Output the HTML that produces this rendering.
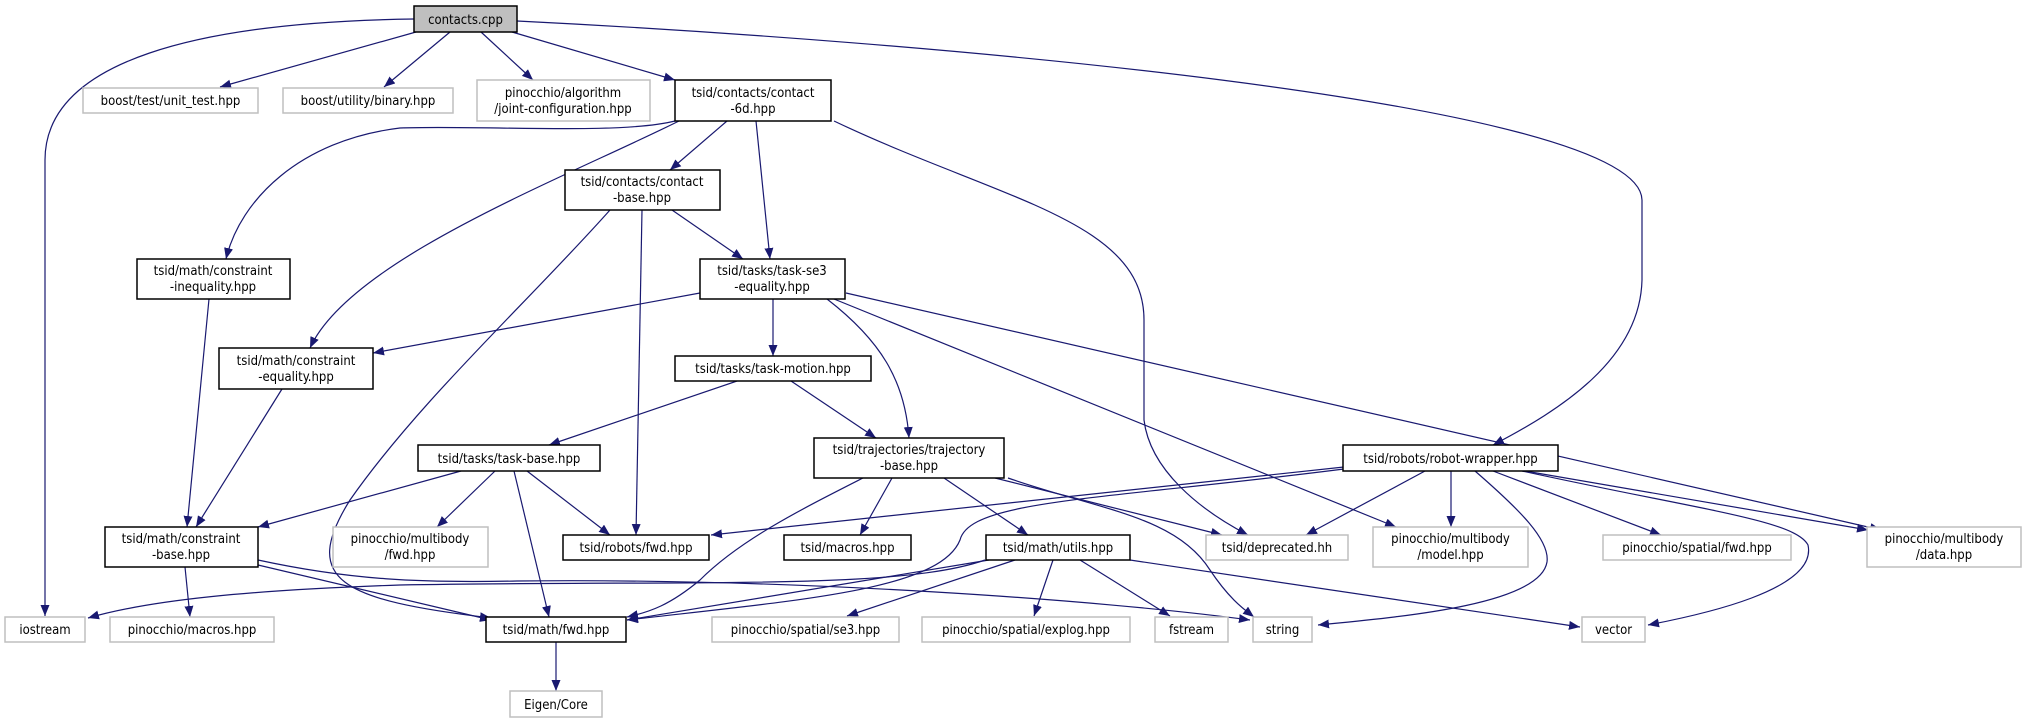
<!DOCTYPE html>
<html><head><meta charset="utf-8"><style>
html,body{margin:0;padding:0;background:#fff;}
svg{display:block;}
text{font-family:"DejaVu Sans Condensed","DejaVu Sans","Liberation Sans",sans-serif;font-size:13px;fill:#000;text-anchor:middle;}
.n rect{fill:#fff;stroke:#000;stroke-width:1.5;}
.g rect{fill:#fff;stroke:#bfbfbf;stroke-width:1.5;}
.r rect{fill:#bfbfbf;stroke:#000;stroke-width:1.5;}
path.e{fill:none;stroke:#191970;stroke-width:1.2;marker-end:url(#a);}
</style></head><body>
<svg width="2027" height="723" viewBox="0 0 2027 723" xmlns="http://www.w3.org/2000/svg">
<defs><marker id="a" markerUnits="userSpaceOnUse" markerWidth="12" markerHeight="10" refX="11" refY="4.5" orient="auto"><path d="M0,0 L11,4.5 L0,9 z" fill="#191970"/></marker></defs>

<!-- edges -->
<path class="e" d="M414,19 C200,22 45,60 45,160 L45,616"/>
<path class="e" d="M416,32 L220,87"/>
<path class="e" d="M450,32 L384,87"/>
<path class="e" d="M481,32 L533,80"/>
<path class="e" d="M512,32 L675,80"/>
<path class="e" d="M517,21 C900,40 1640,100 1642,200 L1642,280 C1640,360 1560,410 1493,445"/>
<path class="e" d="M675,121 C620,135 480,125 400,128 C300,140 240,200 226,259"/>
<path class="e" d="M679,121 C560,180 350,260 310,348"/>
<path class="e" d="M727,121 L670,170"/>
<path class="e" d="M756,121 L770,259"/>
<path class="e" d="M834,121 C1000,200 1144,220 1144,320 L1144,420 C1150,470 1200,510 1248,535"/>
<path class="e" d="M672,210 L743,259"/>
<path class="e" d="M642,210 L636,535"/>
<path class="e" d="M610,210 C530,300 420,400 350,500 C300,580 340,600 491,618"/>
<path class="e" d="M209,299 L187,527"/>
<path class="e" d="M282,389 L196,527"/>
<path class="e" d="M700,293 L373,353"/>
<path class="e" d="M773,299 L773,356"/>
<path class="e" d="M827,299 C880,340 905,380 909,438"/>
<path class="e" d="M834,299 L1396,527"/>
<path class="e" d="M846,293 L1881,530"/>
<path class="e" d="M737,381 L549,445"/>
<path class="e" d="M791,381 L876,438"/>
<path class="e" d="M461,471 L258,527"/>
<path class="e" d="M495,471 L437,527"/>
<path class="e" d="M514,471 L549,617"/>
<path class="e" d="M527,471 L610,535"/>
<path class="e" d="M863,478 C800,510 740,540 700,580 C670,605 650,612 627,617"/>
<path class="e" d="M892,478 L860,535"/>
<path class="e" d="M944,478 L1028,535"/>
<path class="e" d="M995,478 L1222,535"/>
<path class="e" d="M1008,478 C1100,510 1176,516 1210,570 C1230,600 1245,610 1254,617"/>
<path class="e" d="M1344,467 L711,535"/>
<path class="e" d="M1344,469 C1100,500 970,500 960,540 C940,590 800,600 627,620"/>
<path class="e" d="M1425,471 L1306,535"/>
<path class="e" d="M1451,471 L1451,527"/>
<path class="e" d="M1475,471 C1520,510 1550,540 1547,562 C1540,605 1400,617 1318,625"/>
<path class="e" d="M1493,471 L1661,535"/>
<path class="e" d="M1525,471 L1868,530"/>
<path class="e" d="M1522,471 C1700,510 1795,520 1808,545 C1818,590 1700,615 1648,625"/>
<path class="e" d="M185,567 L190,617"/>
<path class="e" d="M258,565 L491,620"/>
<path class="e" d="M258,560 C350,580 420,583 517,581 C800,578 1100,600 1250,620"/>
<path class="e" d="M985,560 C900,590 700,580 400,585 C250,590 150,600 88,618"/>
<path class="e" d="M989,560 L627,620"/>
<path class="e" d="M1015,560 L847,616"/>
<path class="e" d="M1053,560 L1034,616"/>
<path class="e" d="M1080,560 L1170,616"/>
<path class="e" d="M1130,560 L1580,627"/>
<path class="e" d="M556,642 L556,691"/>

<!-- nodes -->
<g class="r"><rect x="414" y="6" width="103" height="26"/><text x="465.5" y="24">contacts.cpp</text></g>
<g class="g"><rect x="83" y="88" width="175" height="25"/><text x="170.5" y="105">boost/test/unit_test.hpp</text></g>
<g class="g"><rect x="283" y="88" width="170" height="25"/><text x="368" y="105">boost/utility/binary.hpp</text></g>
<g class="g"><rect x="477" y="80" width="173" height="41"/><text x="563" y="97">pinocchio/algorithm</text><text x="563" y="113">/joint-configuration.hpp</text></g>
<g class="n"><rect x="675" y="80" width="156" height="41"/><text x="753" y="97">tsid/contacts/contact</text><text x="753" y="113">-6d.hpp</text></g>
<g class="n"><rect x="565" y="170" width="155" height="40"/><text x="642" y="186">tsid/contacts/contact</text><text x="642" y="202">-base.hpp</text></g>
<g class="n"><rect x="137" y="259" width="153" height="40"/><text x="213" y="275">tsid/math/constraint</text><text x="213" y="291">-inequality.hpp</text></g>
<g class="n"><rect x="700" y="259" width="145" height="40"/><text x="772" y="275">tsid/tasks/task-se3</text><text x="772" y="291">-equality.hpp</text></g>
<g class="n"><rect x="219" y="348" width="154" height="41"/><text x="296" y="365">tsid/math/constraint</text><text x="296" y="381">-equality.hpp</text></g>
<g class="n"><rect x="675" y="356" width="196" height="25"/><text x="773" y="373">tsid/tasks/task-motion.hpp</text></g>
<g class="n"><rect x="418" y="445" width="182" height="26"/><text x="509" y="463">tsid/tasks/task-base.hpp</text></g>
<g class="n"><rect x="814" y="438" width="190" height="40"/><text x="909" y="454">tsid/trajectories/trajectory</text><text x="909" y="470">-base.hpp</text></g>
<g class="n"><rect x="1343" y="445" width="215" height="26"/><text x="1450.5" y="463">tsid/robots/robot-wrapper.hpp</text></g>
<g class="n"><rect x="105" y="527" width="153" height="40"/><text x="181" y="543">tsid/math/constraint</text><text x="181" y="559">-base.hpp</text></g>
<g class="g"><rect x="333" y="527" width="155" height="40"/><text x="410" y="543">pinocchio/multibody</text><text x="410" y="559">/fwd.hpp</text></g>
<g class="n"><rect x="563" y="535" width="146" height="25"/><text x="636" y="552">tsid/robots/fwd.hpp</text></g>
<g class="n"><rect x="784" y="535" width="127" height="25"/><text x="847.5" y="552">tsid/macros.hpp</text></g>
<g class="n"><rect x="986" y="535" width="144" height="25"/><text x="1058" y="552">tsid/math/utils.hpp</text></g>
<g class="g"><rect x="1206" y="535" width="142" height="25"/><text x="1277" y="552">tsid/deprecated.hh</text></g>
<g class="g"><rect x="1373" y="527" width="155" height="40"/><text x="1450.5" y="543">pinocchio/multibody</text><text x="1450.5" y="559">/model.hpp</text></g>
<g class="g"><rect x="1603" y="535" width="188" height="25"/><text x="1697" y="552">pinocchio/spatial/fwd.hpp</text></g>
<g class="g"><rect x="1867" y="527" width="154" height="40"/><text x="1944" y="543">pinocchio/multibody</text><text x="1944" y="559">/data.hpp</text></g>
<g class="g"><rect x="5" y="617" width="80" height="25"/><text x="45" y="634">iostream</text></g>
<g class="g"><rect x="110" y="617" width="164" height="25"/><text x="192" y="634">pinocchio/macros.hpp</text></g>
<g class="n"><rect x="486" y="617" width="140" height="25"/><text x="556" y="634">tsid/math/fwd.hpp</text></g>
<g class="g"><rect x="712" y="617" width="187" height="25"/><text x="805.5" y="634">pinocchio/spatial/se3.hpp</text></g>
<g class="g"><rect x="922" y="617" width="208" height="25"/><text x="1026" y="634">pinocchio/spatial/explog.hpp</text></g>
<g class="g"><rect x="1155" y="617" width="73" height="25"/><text x="1191.5" y="634">fstream</text></g>
<g class="g"><rect x="1253" y="617" width="59" height="25"/><text x="1282.5" y="634">string</text></g>
<g class="g"><rect x="1582" y="617" width="63" height="25"/><text x="1613.5" y="634">vector</text></g>
<g class="g"><rect x="510" y="691" width="92" height="26"/><text x="556" y="709">Eigen/Core</text></g>
</svg>
</body></html>
